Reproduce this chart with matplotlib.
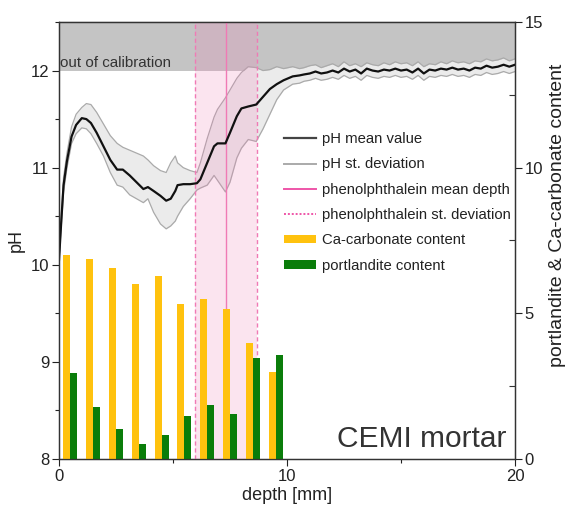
import matplotlib
matplotlib.use("Agg")
import matplotlib.pyplot as plt
import numpy as np
from matplotlib.lines import Line2D
from matplotlib.patches import Patch
from matplotlib.ticker import MultipleLocator

plt.rcParams['font.family'] = ['Liberation Sans', 'DejaVu Sans']

# ---------------- data ----------------
depth = [0.0, 0.1, 0.2, 0.35, 0.55, 0.75, 1.0, 1.2, 1.4, 1.65, 1.95, 2.25, 2.55, 2.8,
         3.1, 3.4, 3.7, 3.9, 4.15, 4.45, 4.7, 4.9, 5.1, 5.2, 5.45, 5.75, 6.05, 6.2,
         6.5, 6.8, 6.95, 7.3, 7.5, 7.8, 8.0, 8.3, 8.65, 8.95, 9.25, 9.55, 9.85, 10.25,
         10.55, 10.75, 11.0, 11.25, 11.5, 11.75, 12.0, 12.25, 12.5, 12.75, 13.0, 13.25,
         13.5, 13.75, 14.0, 14.25, 14.5, 14.75, 15.0, 15.25, 15.5, 15.75, 16.0, 16.25,
         16.5, 16.75, 17.0, 17.25, 17.5, 17.75, 18.0, 18.25, 18.5, 18.75, 19.0, 19.25,
         19.5, 19.75, 20.0]
ph_mean = [10.05, 10.45, 10.82, 11.07, 11.32, 11.44, 11.51, 11.50, 11.46, 11.36, 11.22,
           11.08, 10.98, 10.98, 10.92, 10.85, 10.78, 10.80, 10.76, 10.71, 10.66, 10.68,
           10.76, 10.82, 10.83, 10.83, 10.84, 10.88, 11.05, 11.22, 11.25, 11.25, 11.36,
           11.53, 11.61, 11.63, 11.65, 11.73, 11.81, 11.86, 11.90, 11.94, 11.95,
           11.96, 11.97, 11.99, 11.97, 11.98, 12.00, 11.98, 12.02, 11.99, 12.01, 11.97,
           12.02, 12.00, 11.99, 12.01, 12.00, 12.02, 12.00, 12.01, 11.98, 12.02, 11.97,
           12.01, 12.00, 12.02, 12.01, 12.03, 12.01, 12.02, 12.00, 12.03, 12.02, 12.05,
           12.03, 12.04, 12.06, 12.04, 12.06]
ph_upper = [10.05, 10.50, 10.90, 11.15, 11.42, 11.55, 11.62, 11.66, 11.65, 11.57, 11.45,
            11.33, 11.25, 11.21, 11.18, 11.15, 11.12, 11.08, 11.02, 10.97, 10.95, 11.05,
            11.12, 11.05, 11.00, 10.97, 10.95, 11.05, 11.30, 11.52, 11.60, 11.72, 11.80,
            11.92, 11.98, 12.04, 12.03, 12.00, 12.01, 12.04, 12.02, 12.04, 12.02,
            12.03, 12.05, 12.06, 12.03, 12.05, 12.07, 12.04, 12.09, 12.05, 12.07, 12.04,
            12.08, 12.06, 12.05, 12.08, 12.06, 12.09, 12.07, 12.08, 12.05, 12.09, 12.04,
            12.07, 12.06, 12.09, 12.07, 12.10, 12.08, 12.09, 12.07, 12.10, 12.09, 12.12,
            12.10, 12.11, 12.13, 12.10, 12.12]
ph_lower = [10.05, 10.40, 10.75, 11.00, 11.25, 11.35, 11.41, 11.40, 11.35, 11.25, 11.12,
            10.95, 10.82, 10.80, 10.72, 10.68, 10.64, 10.68, 10.54, 10.42, 10.37, 10.40,
            10.45, 10.50, 10.60, 10.68, 10.77, 10.79, 10.82, 10.92, 10.87, 10.75, 10.85,
            11.10, 11.20, 11.29, 11.27, 11.40, 11.55, 11.70, 11.80, 11.86, 11.87,
            11.89, 11.90, 11.92, 11.90, 11.91, 11.93, 11.91, 11.95, 11.92, 11.94, 11.90,
            11.95, 11.93, 11.92, 11.94, 11.93, 11.95, 11.93, 11.94, 11.91, 11.95, 11.90,
            11.94, 11.93, 11.95, 11.94, 11.96, 11.94, 11.95, 11.93, 11.96, 11.95, 11.98,
            11.96, 11.97, 11.99, 11.97, 11.99]

phenol_mean = 7.32
phenol_low = 5.97
phenol_high = 8.68

bar_centers = [0.5, 1.5, 2.5, 3.5, 4.5, 5.5, 6.5, 7.5, 8.5, 9.5]
caco3 = [7.01, 6.86, 6.55, 6.02, 6.27, 5.31, 5.48, 5.14, 3.99, 2.97]
portlandite = [2.96, 1.77, 1.04, 0.53, 0.84, 1.47, 1.84, 1.56, 3.47, 3.56]

# ---------------- figure ----------------
fig = plt.figure(figsize=(5.67, 5.11), dpi=100)
ax = fig.add_axes([59/567, 1-459/511, (515-59)/567, (459-22)/511])

ax.set_xlim(0, 20)
ax.set_ylim(8, 12.5)

# out of calibration band
ax.axhspan(12, 12.5, color='#c4c4c4', zorder=1, lw=0)
ax.text(0.05, 12.035, 'out of calibration', fontsize=10.9, color='#333333',
        ha='left', va='baseline', zorder=6)

# pH std deviation
ax.fill_between(depth, ph_lower, ph_upper, color='#ebebeb', zorder=2, lw=0)
ax.plot(depth, ph_upper, color='#aaaaaa', lw=0.9, zorder=2.5)
ax.plot(depth, ph_lower, color='#aaaaaa', lw=0.9, zorder=2.5)

# phenolphthalein region
ax.axvspan(phenol_low, phenol_high, color='#f080b8', alpha=0.21, zorder=3, lw=0)
ax.axvline(phenol_mean, color='#f07ab5', lw=1.0, zorder=4)
ax.axvline(phenol_low, color='#f07ab5', lw=1.0, ls=(0, (3, 2)), zorder=4)
ax.axvline(phenol_high, color='#f07ab5', lw=1.0, ls=(0, (3, 2)), zorder=4)

# pH mean
ax.plot(depth, ph_mean, color='#111111', lw=1.6, zorder=5)

ax.set_xticks([0, 10, 20])
ax.xaxis.set_minor_locator(MultipleLocator(5))
ax.set_yticks([8, 9, 10, 11, 12])
ax.yaxis.set_minor_locator(MultipleLocator(0.5))
ax.tick_params(axis='both', which='major', labelsize=12, length=5, width=0.8,
               colors='#222222', pad=2)
ax.tick_params(axis='both', which='minor', length=3, width=0.8, colors='#222222')
ax.tick_params(axis='x', which='both', top=False, direction='out')
ax.set_xlabel('depth [mm]', fontsize=13, color='#222222', labelpad=2)
ax.set_ylabel('pH', fontsize=13, color='#222222', labelpad=4)
for s in ax.spines.values():
    s.set_color('#333333')
    s.set_linewidth(0.9)

# top ticks inward
axt = ax.secondary_xaxis('top')
axt.set_xticks([5, 10, 15])
axt.tick_params(direction='in', length=4, labeltop=False, colors='#333333')

# twin axis for contents
ax2 = ax.twinx()
ax2.set_ylim(0, 15)
w = 0.31
ax2.bar(np.array(bar_centers) - w/2, caco3, width=w, color='#ffc20e', lw=0, zorder=2)
ax2.bar(np.array(bar_centers) + w/2, portlandite, width=w, color='#0a7d0a', lw=0, zorder=2)
ax2.set_yticks([0, 5, 10, 15])
ax2.yaxis.set_minor_locator(MultipleLocator(2.5))
ax2.tick_params(axis='y', which='major', labelsize=12, length=5, width=0.8,
                colors='#222222', direction='out', pad=2)
ax2.tick_params(axis='y', which='minor', length=4, width=0.8, colors='#333333',
                direction='in')
ax2.set_ylabel('portlandite & Ca-carbonate content', fontsize=14, color='#222222',
               va='center', ha='center')
ax2.yaxis.set_label_coords(1.094, 0.558)
for s in ax2.spines.values():
    s.set_color('#333333')
    s.set_linewidth(0.9)

ax2.text(19.6, 0.41, 'CEMI mortar', fontsize=21.5, color='#333333',
         ha='right', va='baseline')

handles = [
    Line2D([], [], color='#444444', lw=1.6),
    Line2D([], [], color='#aaaaaa', lw=1.4),
    Line2D([], [], color='#ee55a8', lw=1.4),
    Line2D([], [], color='#ee55a8', lw=1.4, ls=(0, (1, 1))),
    Patch(facecolor='#ffc20e', lw=0),
    Patch(facecolor='#0a7d0a', lw=0),
]
labels = ['pH mean value', 'pH st. deviation', 'phenolphthalein mean depth',
          'phenolphthalein st. deviation', 'Ca-carbonate content', 'portlandite content']
leg = ax2.legend(handles, labels, loc='upper left', bbox_to_anchor=(0.494, 0.748),
                 frameon=False, fontsize=10.7, borderpad=0, handlelength=2.13,
                 handleheight=0.5, handletextpad=0.42, labelspacing=0.76,
                 borderaxespad=0)
for t in leg.get_texts():
    t.set_color('#222222')

fig.savefig('out.png', dpi=100)
